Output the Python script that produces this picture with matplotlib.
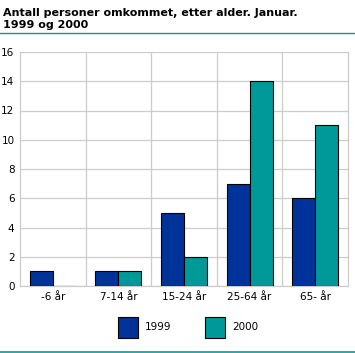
import matplotlib
matplotlib.use("Agg")
import matplotlib.pyplot as plt
import numpy as np
from matplotlib.patches import Rectangle
from matplotlib.lines import Line2D

categories = ["-6 år", "7-14 år", "15-24 år", "25-64 år", "65- år"]
v1999 = [1, 1, 5, 7, 6]
v2000 = [0, 1, 2, 14, 11]
series_labels = ["1999", "2000"]
yticks = [0, 2, 4, 6, 8, 10, 12, 14, 16]

c1999 = "#003399"
c2000 = "#009999"

fig = plt.figure(figsize=(3.55, 3.53), dpi=100)
ax = fig.add_axes([20/355, 1-286/353, 328/355, 234/353])

x = np.arange(len(categories))
w = 0.35
ax.bar(x - w/2, v1999, w, color=c1999, edgecolor="black", linewidth=0.8, zorder=3)
ax.bar(x + w/2, v2000, w, color=c2000, edgecolor="black", linewidth=0.8, zorder=3)

ax.set_xlim(-0.5, len(categories) - 0.5)
ax.set_ylim(0, 16)
ax.set_yticks(yticks)
ax.set_yticklabels([str(t) for t in yticks], fontsize=7.5)
ax.set_xticks(x)
ax.set_xticklabels(categories, fontsize=7.5)
ax.tick_params(length=0, pad=4)
for b in np.arange(0.5, len(categories) - 0.5, 1):
    ax.axvline(b, color="#cccccc", linewidth=0.9, zorder=1)
ax.yaxis.grid(True, color="#cccccc", linewidth=0.9, zorder=1)
for s in ["left", "bottom", "right"]:
    ax.spines[s].set_color("#cccccc")
    ax.spines[s].set_linewidth(0.9)
ax.spines["top"].set_visible(False)

fig.text(3/355, 1-16/353, "Antall personer omkommet, etter alder. Januar.",
         fontsize=8, fontweight="bold", va="baseline", ha="left")
fig.text(3/355, 1-28/353, "1999 og 2000",
         fontsize=8, fontweight="bold", va="baseline", ha="left")
fig.add_artist(Line2D([0, 1], [1-33/353, 1-33/353], color=c2000, linewidth=1))
fig.add_artist(Line2D([0, 1], [1-352/353, 1-352/353], color=c2000, linewidth=1.2))

# legend
for i, (lab, col) in enumerate(zip(series_labels, [c1999, c2000])):
    x0 = (118 + i*87)/355
    fig.add_artist(Rectangle((x0, 1-338/353), 20/355, 21/353, facecolor=col,
                             edgecolor="black", linewidth=0.8, transform=fig.transFigure))
    fig.text(x0 + 27/355, 1-327/353, lab, fontsize=7.5, va="center", ha="left")

fig.savefig("out.png", dpi=100)
